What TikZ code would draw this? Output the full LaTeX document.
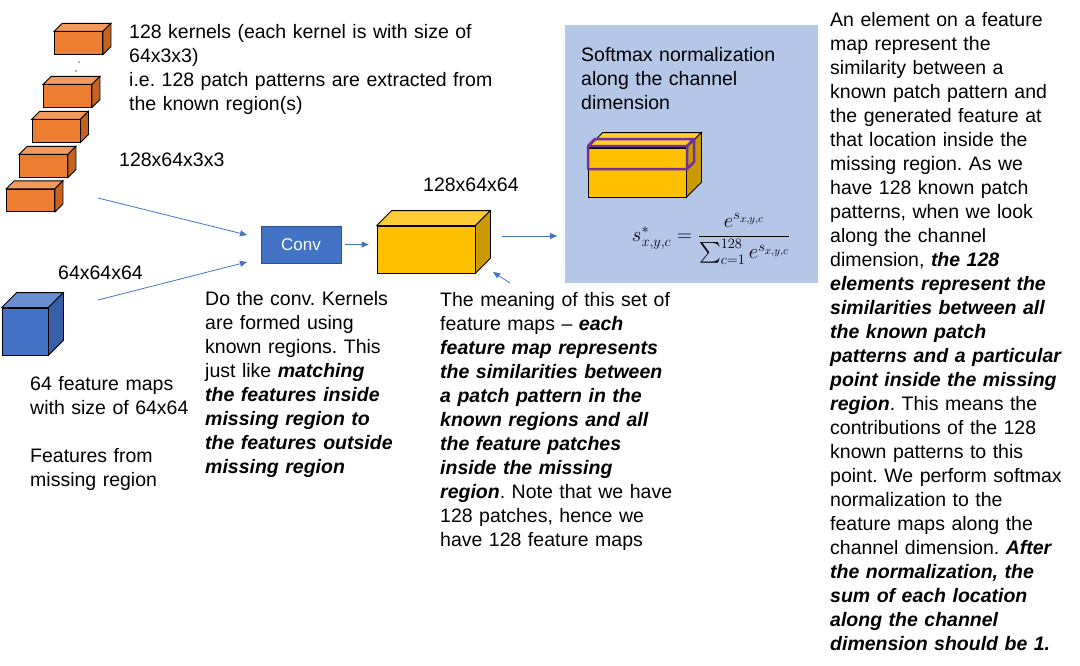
\documentclass[tikz,border=0pt]{standalone}
\usepackage{amsmath}
\usepackage{fontspec}
\setmainfont{Liberation Sans}
\usetikzlibrary{arrows.meta}
\definecolor{kerfront}{HTML}{ED7D31}
\definecolor{kertop}{HTML}{F29A5C}
\definecolor{kerside}{HTML}{C5621F}
\definecolor{mapfront}{HTML}{4472C4}
\definecolor{maptop}{HTML}{6A8ED2}
\definecolor{mapside}{HTML}{3760A8}
\definecolor{featfront}{HTML}{FFC000}
\definecolor{feattop}{HTML}{FFCC33}
\definecolor{featside}{HTML}{CC9A00}
\definecolor{panelblue}{HTML}{B4C7E7}
\definecolor{arrowblue}{HTML}{4472C4}
\definecolor{convline}{HTML}{2F528F}
\definecolor{slice}{HTML}{7030A0}
% top and right face of a box whose front face is the node #1
\newcommand\cuboid[4]{%
  \draw[fill=#3,line width=0.8pt] (#1.north west) -- ([shift={(#2,-#2)}]#1.north west)
    -- ([shift={(#2,-#2)}]#1.north east) -- (#1.north east) -- cycle;
  \draw[fill=#4,line width=0.8pt] (#1.north east) -- ([shift={(#2,-#2)}]#1.north east)
    -- ([shift={(#2,-#2)}]#1.south east) -- (#1.south east) -- cycle;}
\newcommand\bi[1]{\textbf{\textit{#1}}}
\frenchspacing
\begin{document}
\begin{tikzpicture}[x=1pt,y=-1pt,
  face/.style={draw,line width=0.8pt,inner sep=0pt},
  txt/.style={anchor=base west,align=left,inner sep=0pt,text width=420pt,
    font=\fontsize{19.5}{24}\selectfont},
  arr/.style={draw=arrowblue,line width=0.8pt,-{Triangle[length=7pt,width=6pt]}}]
\useasboundingbox (0,0) rectangle (1080,665);
% kernels
\foreach \n/\x/\y in {1/78.5/43,2/67.5/96,3/56/131,4/43.5/166,5/30.5/200.5}{
  \node[face,fill=kerfront,minimum width=48,minimum height=22.5] (k\n) at (\x,\y) {};
  \cuboid{k\n}{8}{kertop}{kerside}
}
\fill[black!60] (79,62) circle (0.8) (76,71) circle (0.8);
\node[txt] (kertext) at (129,38) {128 kernels (each kernel is with size of\\64x3x3)\\i.e. 128 patch patterns are extracted from\\the known region(s)};
\node[txt] (kersize) at (119,166) {128x64x3x3};
% input feature maps
\node[face,fill=mapfront,minimum width=46,minimum height=47] (map) at (25,331.5) {};
\cuboid{map}{15}{maptop}{mapside}
\node[txt] (mapsize) at (58,279) {64x64x64};
\node[txt] (maptext) at (30,390) {64 feature maps\\with size of 64x64\\[24pt]Features from\\missing region};
% conv
\node[draw=convline,fill=mapfront,line width=0.6pt,minimum width=80,minimum height=37,
  text=white,font=\fontsize{17}{20}\selectfont] (conv) at (301,244.5) {Conv};
\coordinate (kout) at (98,198);
\coordinate (mout) at (98,300);
\coordinate (convin1) at (247,235);
\coordinate (convin2) at (247,262);
\draw[arr] (kout) -- (convin1);
\draw[arr] (mout) -- (convin2);
\node[txt] (convtext) at (205,305) {Do the conv. Kernels\\are formed using\\known regions. This\\just like \bi{matching}\\\bi{the features inside}\\\bi{missing region to}\\\bi{the features outside}\\\bi{missing region}};
% output feature maps
\node[face,fill=featfront,minimum width=98,minimum height=47] (feat) at (426,249.5) {};
\cuboid{feat}{15}{feattop}{featside}
\draw[arr,shorten <=4pt,shorten >=8pt] (conv.east) -- (conv.east -| feat.west);
\node[txt] (featsize) at (423,191) {128x64x64};
\coordinate (meanarr) at (510,283);
\coordinate (featcorner) at (493,272);
\draw[arr] (meanarr) -- (featcorner);
\node[txt] (feattext) at (440,306) {The meaning of this set of\\feature maps -- \bi{each}\\\bi{feature map represents}\\\bi{the similarities between}\\\bi{a patch pattern in the}\\\bi{known regions and all}\\\bi{the feature patches}\\\bi{inside the missing}\\\bi{region}. Note that we have\\128 patches, hence we\\have 128 feature maps};
% softmax panel
\node[fill=panelblue,inner sep=0pt,minimum width=253,minimum height=258,anchor=north west] (panel) at (565,25) {};
\coordinate (featout) at (502,236);
\draw[arr,shorten >=8pt] (featout) -- (featout -| panel.west);
\node[txt] (softtext) at (581,61) {Softmax normalization\\along the channel\\dimension};
\node[face,fill=featfront,minimum width=98,minimum height=49] (cube) at (637,172.5) {};
\cuboid{cube}{15}{feattop}{featside}
\draw[slice,line width=2.5pt,line join=round] (588,146) rectangle (687,169)
  (588,146) -- (595,139) -- (694,139) -- (687,146) (694,139) -- (694,162) -- (687,169);
\node[font=\fontsize{21.5}{26}\selectfont] (formula) at (711,239)
  {$s^{*}_{x,y,c}=\dfrac{e^{s_{x,y,c}}}{\sum_{c=1}^{128}e^{s_{x,y,c}}}$};
% explanation
\node[txt] (elemtext) at (830,26) {An element on a feature\\map represent the\\similarity between a\\known patch pattern and\\the generated feature at\\that location inside the\\missing region. As we\\have 128 known patch\\patterns, when we look\\along the channel\\dimension, \bi{the 128}\\\bi{elements represent the}\\\bi{similarities between all}\\\bi{the known patch}\\\bi{patterns and a particular}\\\bi{point inside the missing}\\\bi{region}. This means the\\contributions of the 128\\known patterns to this\\point. We perform softmax\\normalization to the\\feature maps along the\\channel dimension. \bi{After}\\\bi{the normalization, the}\\\bi{sum of each location}\\\bi{along the channel}\\\bi{dimension should be 1.}};
\end{tikzpicture}
\end{document}
